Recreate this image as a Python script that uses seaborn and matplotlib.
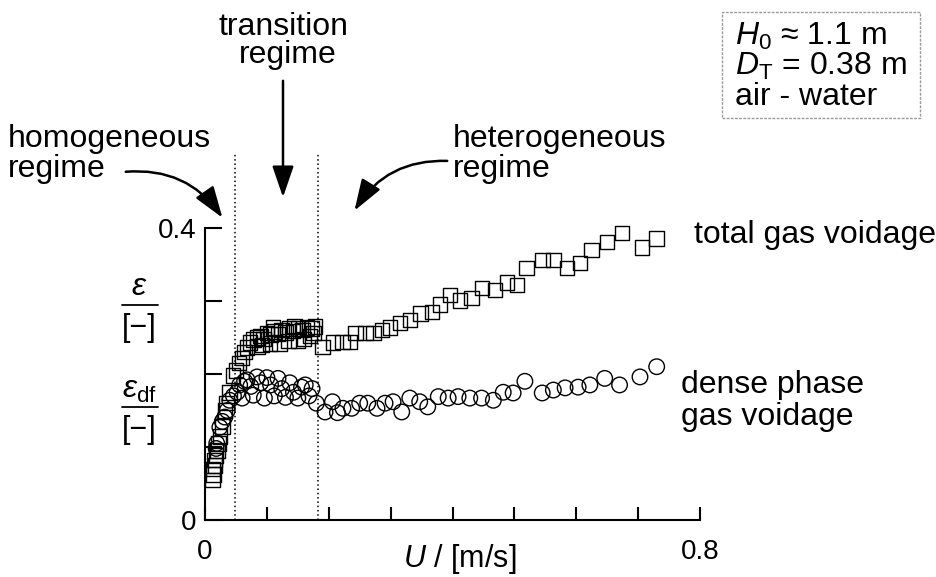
import numpy as np
import pandas as pd
import matplotlib
matplotlib.use("Agg")
import matplotlib.pyplot as plt
import seaborn as sns
from matplotlib.patches import FancyArrowPatch, Rectangle
from matplotlib.lines import Line2D

# ---------------- data ----------------
U_total = [0.012, 0.014, 0.013, 0.016, 0.015, 0.018, 0.020, 0.022, 0.024, 0.028,
           0.032, 0.035, 0.040, 0.045, 0.050, 0.055, 0.060, 0.064, 0.068, 0.073,
           0.078, 0.084, 0.090, 0.095, 0.100, 0.106, 0.112, 0.118, 0.124, 0.130,
           0.136, 0.142, 0.150, 0.158, 0.165, 0.172, 0.178, 0.092, 0.120, 0.150,
           0.085, 0.105, 0.135, 0.160, 0.170, 0.110, 0.145,
           0.175, 0.190, 0.207, 0.222, 0.234, 0.243, 0.259, 0.272, 0.286, 0.299,
           0.315, 0.331, 0.348, 0.367, 0.380, 0.396, 0.412, 0.431, 0.448, 0.469,
           0.488, 0.504, 0.520, 0.545, 0.563, 0.585, 0.606, 0.625, 0.650, 0.674,
           0.706, 0.730]
eps_total = [0.055, 0.062, 0.070, 0.075, 0.082, 0.088, 0.095, 0.105, 0.114, 0.128,
             0.150, 0.160, 0.175, 0.198, 0.205, 0.215, 0.222, 0.230, 0.236, 0.243,
             0.247, 0.250, 0.252, 0.248, 0.256, 0.254, 0.258, 0.255, 0.260, 0.257,
             0.262, 0.259, 0.262, 0.260, 0.264, 0.262, 0.265, 0.240, 0.242, 0.245,
             0.238, 0.242, 0.245, 0.248, 0.252, 0.264, 0.266,
             0.256, 0.237, 0.243, 0.244, 0.244, 0.256, 0.256, 0.256, 0.260, 0.264,
             0.270, 0.274, 0.283, 0.285, 0.295, 0.308, 0.301, 0.304, 0.318, 0.315,
             0.325, 0.322, 0.345, 0.356, 0.356, 0.345, 0.352, 0.370, 0.381, 0.393,
             0.373, 0.386]

U_dense = [0.019, 0.018, 0.024, 0.028, 0.032, 0.036, 0.040, 0.046, 0.052, 0.056,
           0.060, 0.064, 0.068, 0.074, 0.078, 0.084, 0.090, 0.096, 0.100, 0.106,
           0.112, 0.118, 0.124, 0.130, 0.137, 0.143, 0.150, 0.156, 0.162, 0.168,
           0.173, 0.180, 0.194, 0.206, 0.214, 0.223, 0.237, 0.250, 0.263, 0.278,
           0.291, 0.304, 0.318, 0.331, 0.347, 0.360, 0.377, 0.393, 0.409, 0.428,
           0.447, 0.466, 0.482, 0.498, 0.517, 0.545, 0.563, 0.582, 0.603, 0.622,
           0.646, 0.670, 0.703, 0.730]
eps_dense = [0.105, 0.098, 0.127, 0.135, 0.141, 0.150, 0.164, 0.170, 0.175, 0.185,
             0.167, 0.190, 0.192, 0.183, 0.171, 0.196, 0.188, 0.167, 0.195, 0.185,
             0.170, 0.194, 0.180, 0.168, 0.188, 0.175, 0.167, 0.182, 0.185, 0.170,
             0.180, 0.160, 0.148, 0.162, 0.147, 0.153, 0.153, 0.160, 0.160, 0.153,
             0.160, 0.162, 0.148, 0.167, 0.162, 0.155, 0.169, 0.167, 0.169, 0.167,
             0.167, 0.164, 0.175, 0.174, 0.190, 0.174, 0.178, 0.181, 0.182, 0.185,
             0.194, 0.185, 0.196, 0.210]

regime_bounds = [0.048, 0.183]
x_ticks = [0, 0.1, 0.2, 0.3, 0.4, 0.5, 0.6, 0.7, 0.8]
x_ticklabels = ["0", "", "", "", "", "", "", "", "0.8"]
y_ticks = [0, 0.1, 0.2, 0.3, 0.4]
y_ticklabels = ["0", "", "", "", "0.4"]

# ---------------- style ----------------
sns.set_style("ticks")
plt.rcParams["font.family"] = ["Liberation Sans", "DejaVu Sans"]
plt.rcParams["mathtext.fontset"] = "custom"
plt.rcParams["mathtext.rm"] = "Liberation Sans"
plt.rcParams["mathtext.it"] = "Liberation Sans:italic"
plt.rcParams["mathtext.bf"] = "Liberation Sans:bold"
for k in ["text.color", "axes.edgecolor", "axes.labelcolor", "xtick.color", "ytick.color"]:
    plt.rcParams[k] = "black"

W, H = 937, 577
fig = plt.figure(figsize=(W / 100, H / 100), dpi=100)
ax = fig.add_axes([205 / W, 1 - 520 / H, 495 / W, 292 / H])

df_t = pd.DataFrame({"U": U_total, "eps": eps_total})
df_d = pd.DataFrame({"U": U_dense, "eps": eps_dense})
sns.scatterplot(data=df_t, x="U", y="eps", marker="s", s=110, facecolors="none",
                edgecolor="black", linewidth=1.0, ax=ax, clip_on=False, zorder=3)
sns.scatterplot(data=df_d, x="U", y="eps", marker="o", s=125, facecolors="none",
                edgecolor="black", linewidth=1.0, ax=ax, clip_on=False, zorder=3)

ax.set_xlim(0, 0.8)
ax.set_ylim(0, 0.4)
ax.set_xticks(x_ticks)
ax.set_xticklabels(x_ticklabels)
ax.set_yticks(y_ticks)
ax.set_yticklabels(y_ticklabels)
ax.tick_params(axis="x", direction="in", length=9.5, width=1.5, pad=14, labelsize=20)
ax.tick_params(axis="y", direction="in", length=12, width=1.5, pad=6, labelsize=20)
ax.set_xlabel("")
ax.set_ylabel("")
for side in ["top", "right"]:
    ax.spines[side].set_visible(False)
for side in ["left", "bottom"]:
    ax.spines[side].set_linewidth(1.5)

for xb in regime_bounds:
    ax.plot([xb, xb], [0, 0.503], linestyle=(0, (1, 1.8)), color="black", lw=1.1,
            clip_on=False, zorder=1)


def fp(x, y):
    return (x / W, 1 - y / H)


def txt(x, y, s, **kw):
    kw.setdefault("fontsize", 23)
    kw.setdefault("va", "baseline")
    fig.text(*fp(x, y), s, **kw)


# regime labels
txt(284, 35, "transition", ha="center")
txt(288, 63, "regime", ha="center")
txt(8, 147, "homogeneous", ha="left")
txt(8, 177, "regime", ha="left")
txt(453, 147, "heterogeneous", ha="left")
txt(453, 177, "regime", ha="left")

# series labels
txt(694, 243, "total gas voidage", ha="left")
txt(681, 393, "dense phase", ha="left")
txt(681, 425, "gas voidage", ha="left")

# x label
txt(403, 567, r"$U$ / [m/s]", ha="left", fontsize=22)

# y labels as fractions
txt(139, 295, r"$\varepsilon$", ha="center")
fig.add_artist(Line2D([122 / W, 158 / W], [1 - 305 / H, 1 - 305 / H], color="black", lw=1.3))
txt(139, 336, "[\u2212]", ha="center", fontsize=22)
txt(139, 398, r"$\varepsilon_{\mathrm{df}}$", ha="center")
fig.add_artist(Line2D([122 / W, 158 / W], [1 - 407 / H, 1 - 407 / H], color="black", lw=1.3))
txt(139, 438, "[\u2212]", ha="center", fontsize=22)

# info box
fig.add_artist(Rectangle(fp(722, 118), 198 / W, 106 / H, transform=fig.transFigure,
                         facecolor="white", edgecolor="#9a9a9a", lw=1.0, linestyle=(0, (2, 1))))
txt(735, 45, "$H_0$ \u2248 1.1 m", ha="left")
txt(735, 75, r"$D_{\mathrm{T}}$ = 0.38 m", ha="left")
txt(735, 105, "air - water", ha="left")


# arrows
def arrow(p0, p1, rad):
    a = FancyArrowPatch(fp(*p0), fp(*p1), transform=fig.transFigure,
                        arrowstyle="-|>,head_length=1.6,head_width=0.55",
                        mutation_scale=12, connectionstyle=f"arc3,rad={rad}",
                        color="black", lw=1.8)
    fig.add_artist(a)


arrow((283, 78), (283, 200), 0.0)
arrow((123, 172), (224, 220), -0.3)
arrow((450, 161), (353, 213), 0.3)

fig.savefig("out.png", dpi=100)
